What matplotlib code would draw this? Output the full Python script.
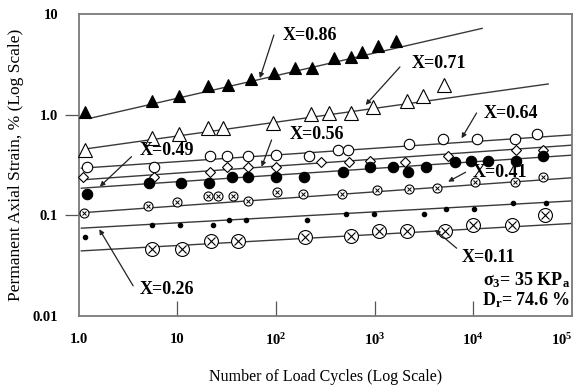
import matplotlib
matplotlib.use('Agg')
import matplotlib.pyplot as plt
import matplotlib.transforms as mtransforms

# strain vs load cycles, one series per X value
s086_n = [1.15, 5.5, 10.4, 20.2, 32.7, 55.1, 95, 155, 229, 388, 574, 747, 1086, 1630]
s086_e = [1.07, 1.38, 1.53, 1.93, 1.97, 2.25, 2.58, 2.89, 2.89, 3.68, 3.77, 4.22, 4.81, 5.39]

s071_n = [1.15, 5.5, 10.4, 20.2, 28.7, 93.5, 225, 343, 574, 966, 2108, 3105, 5070]
s071_e = [0.45, 0.58, 0.64, 0.73, 0.73, 0.82, 1.02, 1.05, 1.05, 1.20, 1.38, 1.53, 1.97]

s064_n = [1.22, 5.8, 21.3, 31.5, 52.1, 99.5, 217, 427, 538, 2240, 4955, 10810, 26400, 43850]
s064_e = [0.305, 0.305, 0.389, 0.389, 0.389, 0.398, 0.389, 0.446, 0.446, 0.508, 0.574, 0.574, 0.574, 0.643]

s056_n = [1.1, 5.8, 21.3, 31.5, 52.1, 99.5, 284, 547, 894, 2024, 5563, 26840, 51170]
s056_e = [0.239, 0.239, 0.272, 0.305, 0.305, 0.305, 0.341, 0.341, 0.349, 0.341, 0.389, 0.446, 0.446]

s049_n = [1.22, 5.1, 10.8, 21, 35.9, 52.1, 99.5, 193, 472, 894, 1542, 2188, 3283, 6504, 9455, 13970, 26840, 51170]
s049_e = [0.162, 0.208, 0.208, 0.208, 0.239, 0.239, 0.239, 0.239, 0.268, 0.305, 0.305, 0.268, 0.305, 0.341,
          0.347, 0.347, 0.347, 0.389]

s041_n = [1.13, 5.0, 10, 20.2, 25.9, 36.7, 52.1, 101, 188, 462, 1045, 2240, 4244, 10380, 26400, 51170]
s041_e = [0.106, 0.124, 0.137, 0.156, 0.156, 0.156, 0.140, 0.172, 0.163, 0.163, 0.179, 0.183, 0.186, 0.216,
          0.216, 0.242]

s026_n = [1.15, 5.5, 10.6, 22.7, 33.5, 49.4, 208, 510, 982, 3156, 5237, 10140, 25020, 54450]
s026_e = [0.061, 0.080, 0.080, 0.080, 0.090, 0.090, 0.090, 0.103, 0.103, 0.103, 0.116, 0.116, 0.132, 0.132]

s011_n = [5.5, 11.2, 21.8, 41.3, 196, 574, 1104, 2108, 5152, 9970, 24450, 53200]
s011_e = [0.046, 0.046, 0.055, 0.055, 0.061, 0.062, 0.0705, 0.0705, 0.0705, 0.080, 0.080, 0.101]

# fitted lines: (start N, start strain, end N, end strain)
fit_086 = [1.29, 0.92, 12300, 7.21]
fit_071 = [1.15, 0.456, 57500, 2.02]
fit_064 = [1.06, 0.294, 1e5, 0.63]
fit_056 = [1.06, 0.225, 1e5, 0.498]
fit_049 = [1.06, 0.186, 1e5, 0.396]
fit_041 = [1.06, 0.106, 1e5, 0.236]
fit_026 = [1.06, 0.0745, 1e5, 0.139]
fit_011 = [1.06, 0.0443, 1e5, 0.083]

# labels: text, text anchor, arrow tail, arrow head
labels = ["X=0.86", "X=0.71", "X=0.64", "X=0.56", "X=0.49", "X=0.41", "X=0.26", "X=0.11"]
label_pos = [(117, 6.19), (2366, 3.24), (12600, 1.03), (138, 0.629), (4.16, 0.436), (9910, 0.268),
             (4.16, 0.0182), (7610, 0.0378)]
arrow_tail = [(95, 6.19), (1803, 2.98), (10800, 1.04), (90, 0.561), (3.42, 0.383), (8360, 0.268),
              (3.55, 0.0199), (6780, 0.0471)]
arrow_head = [(68.5, 2.31), (809, 1.25), (7610, 0.583), (71.3, 0.304), (1.63, 0.193), (5560, 0.216),
              (1.61, 0.0728), (4080, 0.0716)]

xticks = [1, 10, 100, 1000, 10000, 100000]
xticklabels = ["1.0", "10", r"$\mathbf{10^2}$", r"$\mathbf{10^3}$", r"$\mathbf{10^4}$", r"$\mathbf{10^5}$"]
yticks = [0.01, 0.1, 1, 10]
yticklabels = ["0.01", "0.1", "1.0", "10"]

plt.rcParams['font.family'] = ['Liberation Serif', 'DejaVu Serif']
plt.rcParams['mathtext.fontset'] = 'custom'
plt.rcParams['mathtext.rm'] = 'Liberation Serif'
plt.rcParams['mathtext.it'] = 'Liberation Serif:italic'
plt.rcParams['mathtext.bf'] = 'Liberation Serif:bold'

fig = plt.figure(figsize=(5.8, 3.91), dpi=100)
ax = fig.add_axes([0.136, 0.192, 0.850, 0.772])
ax.set_xscale('log')
ax.set_yscale('log')
ax.set_xlim(1, 1e5)
ax.set_ylim(0.01, 10)

line_kw = dict(color='#3a3a3a', lw=1.0, zorder=2)
for fit in [fit_086, fit_071, fit_064, fit_056, fit_049, fit_041, fit_026, fit_011]:
    ax.plot([fit[0], fit[2]], [fit[1], fit[3]], **line_kw)

mk = dict(ls='none', mec='black', mew=0.8, zorder=3, clip_on=False)
ax.plot(s086_n, s086_e, marker='^', ms=9, mfc='black', **mk)
ax.plot(s071_n, s071_e, marker='^', ms=9.5, mfc='white', **mk)
ax.plot(s064_n, s064_e, marker='o', ms=7.5, mfc='white', **mk)
ax.plot(s056_n, s056_e, marker='D', ms=5.5, mfc='white', **mk)
ax.plot(s049_n, s049_e, marker='o', ms=7.5, mfc='black', **mk)
# small crossed circles
ax.plot(s041_n, s041_e, marker='o', ms=6.5, mfc='white', **mk)
ax.plot(s041_n, s041_e, marker='x', ms=3.5, mfc='none', ls='none', mec='black', mew=0.7, zorder=4)
ax.plot(s026_n, s026_e, marker='o', ms=3.2, mfc='black', **mk)
# large crossed circles
ax.plot(s011_n, s011_e, marker='o', ms=10, mfc='white', **mk)
ax.plot(s011_n, s011_e, marker='x', ms=6, mfc='none', ls='none', mec='black', mew=0.8, zorder=4)

for txt, pos, tail, head in zip(labels, label_pos, arrow_tail, arrow_head):
    ax.text(pos[0], pos[1], txt, fontsize=13, fontweight='bold', ha='left', va='center', zorder=5)
    ax.annotate('', xy=head, xytext=tail,
                arrowprops=dict(arrowstyle='-|>', color='#222222', lw=0.9,
                                mutation_scale=7, shrinkA=0, shrinkB=0))

ax.text(0.996, 0.119, r"σ$_\mathbf{3}$= 35 KP$_\mathbf{a}$", transform=ax.transAxes,
        fontsize=13, fontweight='bold', ha='right', va='center')
ax.text(0.996, 0.053, r"D$_\mathbf{r}$= 74.6 %", transform=ax.transAxes,
        fontsize=13, fontweight='bold', ha='right', va='center')

ax.set_xticks(xticks)
ax.set_xticklabels(xticklabels, fontsize=10.5, fontweight='bold')
ax.set_yticks(yticks)
ax.set_yticklabels(yticklabels, fontsize=10.5, fontweight='bold')
ax.minorticks_off()
ax.tick_params(axis='x', direction='in', length=11, width=0.9, color='#555555', pad=12)
ax.tick_params(axis='y', direction='out', length=10, width=0.9, color='#555555', pad=5)
for t in [ax.yaxis.get_major_ticks()[0], ax.yaxis.get_major_ticks()[-1]]:
    t.tick1line.set_visible(False)
for t in [ax.xaxis.get_major_ticks()[0], ax.xaxis.get_major_ticks()[-1]]:
    t.tick1line.set_visible(False)

# pull the last x label in a little so it stays on the canvas
last = ax.get_xticklabels()[-1]
last.set_transform(last.get_transform() + mtransforms.ScaledTranslation(-7 / 72, 0, fig.dpi_scale_trans))

for sp in ax.spines.values():
    sp.set_color('#7a7a7a')
    sp.set_linewidth(1.3)

ax.set_xlabel("Number of Load Cycles (Log Scale)", fontsize=11.5)
ax.xaxis.set_label_coords(0.5, -0.175)
ax.set_ylabel("Permanent Axial Strain, % (Log Scale)", fontsize=12.5)
ax.yaxis.set_label_coords(-0.112, 0.5)

fig.savefig("out.png", dpi=100)
